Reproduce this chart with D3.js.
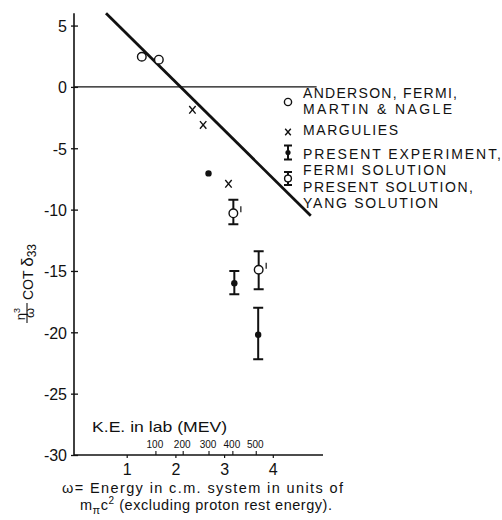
<!DOCTYPE html>
<html>
<head>
<meta charset="utf-8">
<script src="https://cdn.jsdelivr.net/npm/d3@7/dist/d3.min.js"></script>
<style>
  html, body { margin: 0; padding: 0; background: #fff; }
  svg { display: block; }
  text { font-family: "Liberation Sans", Arial, sans-serif; fill: #111; }
</style>
</head>
<body>
<script>
// ---- data ----
const omegaTicks = [1, 2, 3, 4];
const valueTicks = [5, 0, -5, -10, -15, -20, -25, -30];
const keLabels = [100, 200, 300, 400, 500];          // lab kinetic energy, MeV
const keOmega = [1.60, 2.16, 2.69, 3.18, 3.66];        // same energies on the ω scale

// Anderson, Fermi, Martin & Nagle
const andersonOmega = [1.31, 1.66];
const andersonValue = [2.46, 2.22];

// Margulies
const marguliesOmega = [2.35, 2.57, 3.09];
const marguliesValue = [-1.87, -3.1, -7.9];

// Present experiment, Fermi solution (null = no error bar)
const fermiOmega = [2.68, 3.21, 3.70];
const fermiValue = [-7.05, -16.0, -20.2];
const fermiHigh = [null, -15.0, -18.0];
const fermiLow = [null, -16.9, -22.2];

// Present solution, Yang solution
const yangOmega = [3.19, 3.71];
const yangValue = [-10.3, -14.9];
const yangHigh = [-9.2, -13.4];
const yangLow = [-11.2, -16.5];

// straight-line fit
const fitOmega = [0.575, 4.78];
const fitValue = [6.0, -10.5];

// zero reference line extent on the ω axis
const zeroLineOmega = [-0.08, 4.9];

const legendEntries = [
  { kind: "open", lines: ["ANDERSON, FERMI,", "MARTIN & NAGLE"] },
  { kind: "cross", lines: ["MARGULIES"] },
  { kind: "fermi", lines: ["PRESENT EXPERIMENT,", "FERMI SOLUTION"] },
  { kind: "yang", lines: ["PRESENT SOLUTION,", "YANG SOLUTION"] }
];

// ---- layout ----
const W = 502, H = 520;
const svg = d3.select("body").append("svg").attr("width", W).attr("height", H);

const x = d3.scaleLinear().domain([0, 5]).range([78, 321.5]);
const y = d3.scaleLinear().domain([-30, 6]).range([455, 13.3]);
const axisX = 74;           // left edge of the frame
const axisY = y(-30);
const ink = "#111";

// zero line
svg.append("line")
  .attr("x1", x(zeroLineOmega[0])).attr("x2", x(zeroLineOmega[1]))
  .attr("y1", y(0)).attr("y2", y(0))
  .attr("stroke", ink).attr("stroke-width", 1.2);

// vertical axis
const yAxis = d3.axisLeft(y).tickValues(valueTicks).tickSize(3).tickPadding(4)
  .tickFormat(d => d < 0 ? "-" + Math.abs(d) : String(d));
const gy = svg.append("g").attr("transform", `translate(${axisX},0)`).call(yAxis);
gy.select(".domain").remove();
gy.selectAll(".tick line").attr("x1", -3).attr("x2", 4).attr("stroke", ink).attr("stroke-width", 1.3);
gy.selectAll(".tick text").attr("font-size", 16).attr("fill", ink).attr("dy", "0.36em")
  .style("font-family", '"Liberation Sans", Arial, sans-serif');
svg.append("line").attr("x1", axisX).attr("x2", axisX).attr("y1", y(6)).attr("y2", axisY)
  .attr("stroke", ink).attr("stroke-width", 1.6);

// horizontal axis (ω)
const xAxis = d3.axisBottom(x).tickValues(omegaTicks).tickSize(3).tickPadding(6).tickFormat(d3.format("d"));
const gx = svg.append("g").attr("transform", `translate(0,${axisY})`).call(xAxis);
gx.select(".domain").remove();
gx.selectAll(".tick line").attr("stroke", ink).attr("stroke-width", 1.2);
gx.selectAll(".tick text").attr("font-size", 16).attr("fill", ink)
  .style("font-family", '"Liberation Sans", Arial, sans-serif');
svg.append("line").attr("x1", axisX).attr("x2", 323).attr("y1", axisY).attr("y2", axisY)
  .attr("stroke", ink).attr("stroke-width", 1.6);

// lab kinetic energy scale on the same axis
const ke = svg.append("g");
ke.selectAll("line.ke").data(keOmega).join("line")
  .attr("x1", d => x(d)).attr("x2", d => x(d))
  .attr("y1", axisY).attr("y2", axisY - 4)
  .attr("stroke", ink).attr("stroke-width", 1.1);
ke.selectAll("text.ke").data(keLabels).join("text")
  .attr("x", (d, i) => x(keOmega[i]) - 1).attr("y", axisY - 7.5)
  .attr("text-anchor", "middle").attr("font-size", 10).text(d => d);
svg.append("text").attr("x", 92).attr("y", 432).attr("font-size", 14.5)
  .attr("textLength", 135).attr("lengthAdjust", "spacingAndGlyphs")
  .text("K.E. in lab (MEV)");

// fit line
svg.append("line")
  .attr("x1", x(fitOmega[0])).attr("y1", y(fitValue[0]))
  .attr("x2", x(fitOmega[1])).attr("y2", y(fitValue[1]))
  .attr("stroke", ink).attr("stroke-width", 2.8);

// ---- marker helpers ----
function openCircle(g, cx, cy, r) {
  g.append("circle").attr("cx", cx).attr("cy", cy).attr("r", r)
    .attr("fill", "#fff").attr("stroke", ink).attr("stroke-width", 1.4);
}
function cross(g, cx, cy, hw, hh) {
  g.append("path")
    .attr("d", `M${cx - hw},${cy - hh}L${cx + hw},${cy + hh}M${cx + hw},${cy - hh}L${cx - hw},${cy + hh}`)
    .attr("stroke", ink).attr("stroke-width", 1.4).attr("fill", "none");
}
function errorBar(g, cx, top, bottom, cap) {
  g.append("path")
    .attr("d", `M${cx},${top}V${bottom}M${cx - cap},${top}H${cx + cap}M${cx - cap},${bottom}H${cx + cap}`)
    .attr("stroke", ink).attr("stroke-width", 2).attr("fill", "none");
}
function dot(g, cx, cy, r) {
  g.append("circle").attr("cx", cx).attr("cy", cy).attr("r", r).attr("fill", ink);
}

const marks = svg.append("g");

andersonOmega.forEach((w, i) => openCircle(marks, x(w), y(andersonValue[i]), 4.3));
marguliesOmega.forEach((w, i) => cross(marks, x(w), y(marguliesValue[i]), 3.2, 3.8));

fermiOmega.forEach((w, i) => {
  if (fermiHigh[i] !== null) errorBar(marks, x(w), y(fermiHigh[i]), y(fermiLow[i]), 5);
  dot(marks, x(w), y(fermiValue[i]), 3.2);
});

yangOmega.forEach((w, i) => {
  errorBar(marks, x(w), y(yangHigh[i]), y(yangLow[i]), 5);
  openCircle(marks, x(w), y(yangValue[i]), 4.3);
  // small tick printed beside each point
  marks.append("line")
    .attr("x1", x(w) + 7.5).attr("x2", x(w) + 7.5)
    .attr("y1", y(yangValue[i]) - 7).attr("y2", y(yangValue[i]) - 1)
    .attr("stroke", ink).attr("stroke-width", 1.2);
});

// ---- legend ----
const legendLayout = {
  symbolX: 288, textX: 303,
  baselines: [[98, 114], [135], [159, 174.5], [192, 208]],
  widths: [[154, 149], [95], [198, 143], [170, 135]],
  symbolY: [102, 132, 152.5, 178.5]
};
const legend = svg.append("g");
legendEntries.forEach((e, i) => {
  const sx = legendLayout.symbolX, sy = legendLayout.symbolY[i];
  if (e.kind === "open") openCircle(legend, sx, sy, 3.6);
  if (e.kind === "cross") cross(legend, sx, sy, 2.8, 3.2);
  if (e.kind === "fermi") { errorBar(legend, sx, sy - 7, sy + 7, 4); dot(legend, sx, sy, 2.6); }
  if (e.kind === "yang") { errorBar(legend, sx, sy - 6.5, sy + 6.5, 4); openCircle(legend, sx, sy, 3.4); }
  e.lines.forEach((t, j) => {
    legend.append("text")
      .attr("x", legendLayout.textX).attr("y", legendLayout.baselines[i][j])
      .attr("font-size", 14)
      .attr("textLength", legendLayout.widths[i][j]).attr("lengthAdjust", "spacing")
      .text(t);
  });
});

// ---- vertical axis title: η³/ω cot δ33 ----
const yt = svg.append("g").attr("transform", "translate(33,325) rotate(-90)");
yt.append("text").attr("x", 11).attr("y", -8).attr("text-anchor", "middle").attr("font-size", 13)
  .call(t => { t.append("tspan").text("η"); t.append("tspan").attr("dy", -5).attr("font-size", 9).text("3"); });
yt.append("line").attr("x1", 2).attr("x2", 22).attr("y1", -6).attr("y2", -6)
  .attr("stroke", ink).attr("stroke-width", 1.1);
yt.append("text").attr("x", 12).attr("y", 1).attr("text-anchor", "middle").attr("font-size", 13).text("ω");
yt.append("text").attr("x", 25).attr("y", 0).attr("font-size", 14)
  .call(t => {
    t.append("tspan").text("COT ");
    t.append("tspan").attr("font-size", 17).text("δ");
    t.append("tspan").attr("dy", 3).attr("font-size", 12).text("33");
  });

// ---- caption ----
svg.append("text").attr("x", 62).attr("y", 493).attr("font-size", 14.5)
  .attr("textLength", 281).attr("lengthAdjust", "spacing")
  .text("ω= Energy in c.m. system in units of");
svg.append("text").attr("x", 80).attr("y", 510).attr("font-size", 14.5)
  .attr("textLength", 252).attr("lengthAdjust", "spacing")
  .call(t => {
    t.append("tspan").text("m");
    t.append("tspan").attr("dy", 4).attr("font-size", 11).text("π");
    t.append("tspan").attr("dy", -4).text("c");
    t.append("tspan").attr("dy", -6).attr("font-size", 10).text("2");
    t.append("tspan").attr("dy", 6).text(" (excluding proton rest energy).");
  });
</script>
</body>
</html>
